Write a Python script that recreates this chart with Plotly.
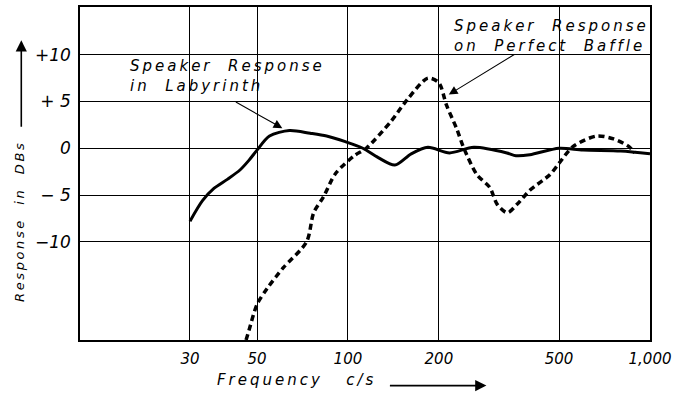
import plotly.graph_objects as go

# Speaker response in the labyrinth (solid curve)
lab_freq = [30, 33, 36, 40, 44, 47, 50, 55, 64, 75, 85, 98, 112, 126, 143, 162, 184, 217, 261, 336, 360, 400, 500, 600, 800, 1000]
lab_db = [-7.8, -5.6, -4.3, -3.3, -2.3, -1.3, -0.2, 1.3, 1.9, 1.6, 1.3, 0.7, 0.0, -1.0, -1.8, -0.6, 0.1, -0.5, 0.1, -0.5, -0.8, -0.7, 0.0, -0.2, -0.3, -0.6]

# Speaker response on a perfect baffle (dotted curve)
baf_freq = [46, 47, 50, 54, 61, 73, 77, 83, 91, 105, 115, 139, 158, 184, 200, 212, 229, 242, 267, 295, 312, 337, 363, 400, 467, 500, 557, 665, 758, 850, 890]
baf_db = [-20.5, -19.5, -16.7, -15.0, -12.8, -10.0, -6.9, -5.2, -2.7, -0.8, 0.0, 2.9, 5.3, 7.5, 7.0, 4.6, 2.1, 0.0, -2.8, -4.2, -6.0, -6.9, -6.0, -4.5, -2.8, -1.6, 0.2, 1.3, 1.0, 0.2, -0.5]

x_ticks = [30, 50, 100, 200, 500, 1000]
x_labels = ["30", "50", "100", "200", "500", "1,000"]
y_ticks = [10, 5, 0, -5, -10]
y_labels = ["+10", "+ 5", "0", "\u2212 5", "\u221210"]

FONT = "DejaVu Sans"


def spaced(s):
    # imitate the wide hand lettering
    return "\u2009".join(s)


fig = go.Figure()
fig.add_trace(go.Scatter(x=lab_freq, y=lab_db, mode="lines", line=dict(color="black", width=3, shape="spline", smoothing=0.8), showlegend=False))
fig.add_trace(go.Scatter(x=baf_freq, y=baf_db, mode="lines", line=dict(color="black", width=3.5, dash="6px,4px", shape="spline", smoothing=0.8), showlegend=False))

fig.update_xaxes(
    type="log", range=[1.113, 3.0],
    tickvals=x_ticks, ticktext=["<i>%s</i>" % t for t in x_labels],
    showgrid=True, gridcolor="black", gridwidth=1.3,
    showline=True, linecolor="black", linewidth=1.6, mirror=True,
    ticks="", ticklabelstandoff=4, zeroline=False,
    tickfont=dict(family=FONT, size=15, color="black"),
)
fig.update_yaxes(
    range=[-20.5, 15.1],
    tickvals=y_ticks, ticktext=["<i>%s</i>" % t for t in y_labels],
    showgrid=True, gridcolor="black", gridwidth=1.3,
    showline=True, linecolor="black", linewidth=1.6, mirror=True,
    ticks="", ticklabelstandoff=4, zeroline=False,
    tickfont=dict(family=FONT, size=17, color="black"),
)

txt = dict(family=FONT, size=15, color="black")
fig.add_annotation(x=0.085, y=0.855, xref="paper", yref="paper", xanchor="left", yanchor="top", align="left",
                   text="<i>%s<br>%s</i>" % (spaced("Speaker  Response"), spaced("in  Labyrinth")), showarrow=False, font=txt)
fig.add_annotation(x=0.652, y=0.975, xref="paper", yref="paper", xanchor="left", yanchor="top", align="left",
                   text="<i>%s<br>%s</i>" % (spaced("Speaker  Response"), spaced("on  Perfect  Baffle")), showarrow=False, font=txt)

# pointer arrows
fig.add_annotation(x=0.355, y=0.636, xref="paper", yref="paper", ax=-48, ay=-27, text="", showarrow=True,
                   arrowhead=2, arrowsize=1.6, arrowwidth=1.1, arrowcolor="black")
fig.add_annotation(x=0.647, y=0.737, xref="paper", yref="paper", ax=67, ay=-41, text="", showarrow=True,
                   arrowhead=2, arrowsize=1.6, arrowwidth=1.1, arrowcolor="black")

# axis titles
fig.add_annotation(x=-0.105, y=0.352, xref="paper", yref="paper", xanchor="center", yanchor="middle",
                   text="<i>%s</i>" % spaced("Response  in  DBs"),
                   textangle=-90, showarrow=False, font=dict(family=FONT, size=13, color="black"))
fig.add_annotation(x=-0.103, y=0.9, xref="paper", yref="paper", ax=0, ay=88, text="", showarrow=True,
                   arrowhead=2, arrowsize=1.4, arrowwidth=1.6, arrowcolor="black")
fig.add_annotation(x=0.378, y=-0.119, xref="paper", yref="paper", xanchor="center", yanchor="middle",
                   text="<i>%s</i>" % spaced("Frequency   c/s"), showarrow=False, font=txt)
fig.add_annotation(x=0.713, y=-0.137, xref="paper", yref="paper", ax=-98, ay=0, text="", showarrow=True,
                   arrowhead=2, arrowsize=1.4, arrowwidth=1.6, arrowcolor="black")

fig.update_layout(
    width=676, height=396,
    margin=dict(l=80, r=24, t=5, b=56),
    plot_bgcolor="white", paper_bgcolor="white",
)

fig.write_html("out.html", config={"displayModeBar": False},
               post_script="document.body.style.margin='0';")
